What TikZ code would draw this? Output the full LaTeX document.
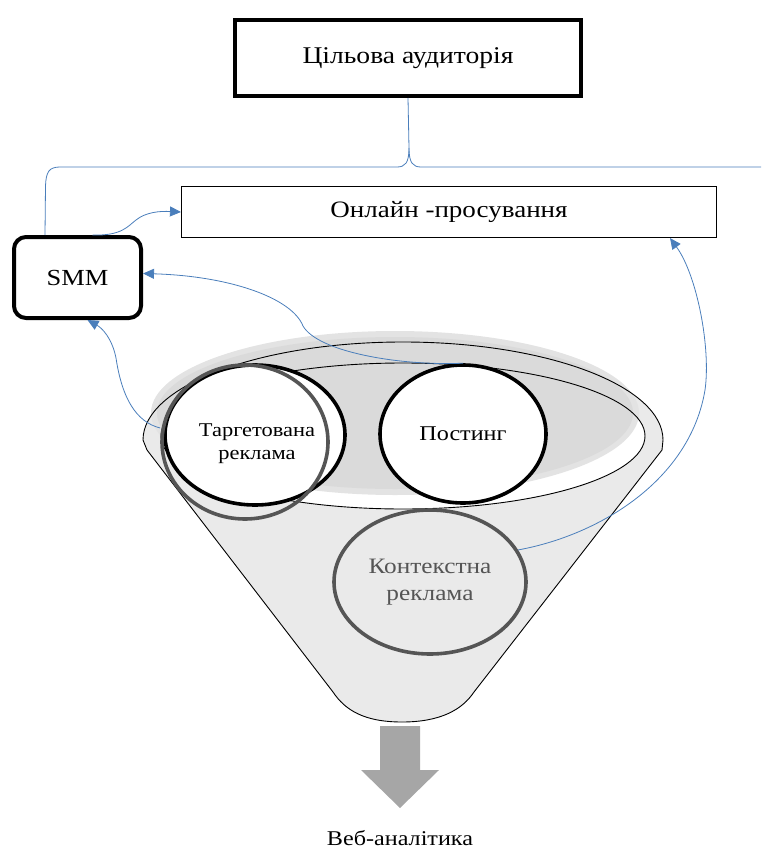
\documentclass[tikz,border=0pt]{standalone}
\usepackage{fontspec}
\setmainfont{Liberation Serif}
\newfontfamily\wf[FakeStretch=1.15]{Liberation Serif}
\usetikzlibrary{arrows.meta,shapes.geometric}
\definecolor{lnk}{HTML}{4A7EBB}
\definecolor{funfill}{HTML}{EAEAEA}
\definecolor{shadowA}{HTML}{E3E3E3}
\definecolor{shadowB}{HTML}{DADADA}
\definecolor{ringgray}{HTML}{555555}
\definecolor{arrowgray}{HTML}{A6A6A6}
\tikzset{
  conn/.style={draw=lnk, line width=0.8pt},
  connarrow/.style={conn, -{Triangle[length=11pt,width=10pt]}},
  thickbox/.style={draw, line width=4pt, inner sep=0pt},
  thinbox/.style={draw, line width=1.1pt, inner sep=0pt},
  bubble/.style={ellipse, draw, line width=3.6pt, inner sep=0pt, align=center},
}
\newcommand{\fs}[2]{\fontsize{#1}{#2}\selectfont}
\begin{document}
\begin{tikzpicture}[x=1pt,y=-1pt]
\useasboundingbox (0,0) rectangle (761,850);

% ---- boxes
\node[thickbox, minimum width=346pt, minimum height=76pt, font=\wf\fs{24}{28}] (top) at (408,58) {Цільова аудиторія};
\node[thinbox, minimum width=535pt, minimum height=51pt, font=\wf\fs{23.5}{28}] (online) at (449,212) {Онлайн -просування};
\node[thickbox, rounded corners=12pt, minimum width=127pt, minimum height=81pt, font=\wf\fs{23}{28}] (smm) at (77.5,277.5) {SMM};

% ---- brace connector
\coordinate (braceR) at (761,167);
\coordinate (braceM) at (409,148);
\draw[conn] (top.south) -- (braceM) .. controls (409,163) and (405,167) .. (397,167) -- (60,167)
  .. controls (49,167) and (46,172) .. (45.5,186) -- ([xshift=-32.5pt]smm.north);
\draw[conn] (braceM) .. controls (409,163) and (413,167) .. (421,167) -- (braceR);

% ---- funnel
\path[fill=funfill] (143,440) arc[start angle=180, end angle=360, x radius=260, y radius=98]
  -- (662,450) -- (474,692) .. controls (462,710) and (440,722) .. (402,722)
  .. controls (364,722) and (345,710) .. (333,692) -- (147,450) -- cycle;
\fill[white] (403,436) ellipse[x radius=242, y radius=73];
\fill[shadowA] (395,413) ellipse[x radius=244, y radius=82];
\fill[shadowB] (395,413) ellipse[x radius=238, y radius=76];
\draw[line width=0.9pt] (143,440) arc[start angle=180, end angle=360, x radius=260, y radius=98]
  -- (662,450) -- (474,692) .. controls (462,710) and (440,722) .. (402,722)
  .. controls (364,722) and (345,710) .. (333,692) -- (147,450) -- cycle;
\draw[line width=0.9pt] (403,436) ellipse[x radius=242, y radius=73];

% ---- bubbles
\node[bubble, fill=white, minimum width=180pt, minimum height=140pt] (targ) at (255,435) {};
\node[ellipse, draw=ringgray, line width=3.6pt, minimum width=166pt, minimum height=154pt, inner sep=0pt] (targring) at (245,442) {};
\node[align=center, inner sep=0pt, font=\wf\fs{19.5}{23}] (targtext) at (257,444) {Таргетована\\реклама};
\node[bubble, fill=white, minimum width=166pt, minimum height=138pt, font=\wf\fs{21}{26}] (post) at (463,434) {Постинг};
\node[bubble, draw=ringgray, text=ringgray, minimum width=192pt, minimum height=144pt, font=\wf\fs{22}{27}] (kont) at (430,582) {Контекстна\\реклама};

% ---- output arrow
\node[inner sep=0pt, font=\wf\fs{21}{25}] (web) at (400,838) {Веб-аналітика};
\fill[arrowgray] (380,726) -- (420,726) -- (420,770) -- (439,770) -- (400,808) -- (361,770) -- (380,770) -- cycle;

% ---- connectors
\draw[connarrow] ([xshift=15pt]smm.north) .. controls (122,236) and (128,226) .. (136,220)
  .. controls (146,212) and (160,211) .. (online.west);
\draw[connarrow] (post.north) .. controls (400,366) and (318,352) .. (303,326)
  .. controls (292,298) and (230,276) .. ([yshift=4pt]smm.east);
\draw[connarrow] ([yshift=14pt]targring.west) .. controls (136,422) and (122,398) .. (116,358)
  .. controls (112,338) and (102,328) .. ([xshift=10pt]smm.south);
\draw[connarrow] (kont.20) .. controls (600,535) and (690,480) .. (705,390)
  .. controls (711,348) and (697,275) .. ([xshift=221pt]online.south);
\end{tikzpicture}
\end{document}
